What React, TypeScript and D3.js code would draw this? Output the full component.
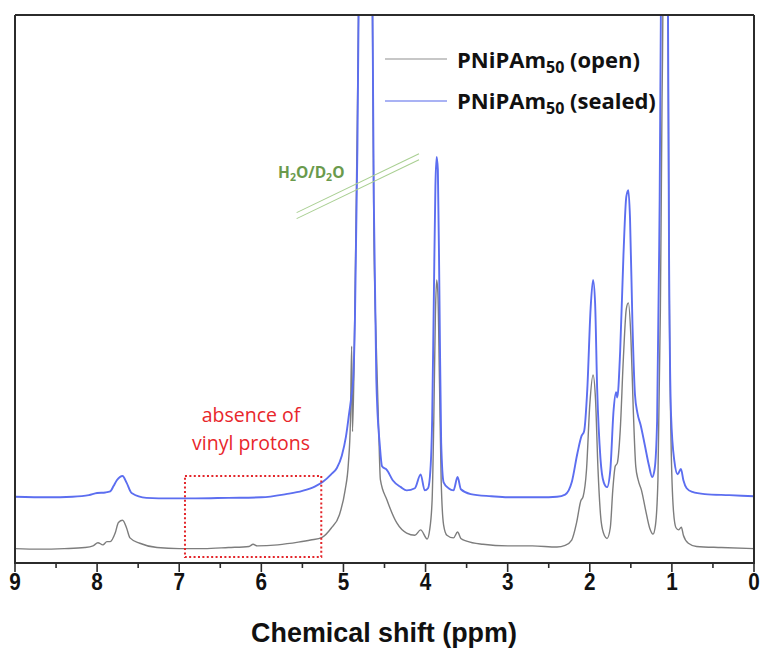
import React, { useEffect } from "react";
import * as d3 from "d3";

// ---- data (ppm, relative intensity) ----
const openSpectrum: [number, number][] = [
  [9.0, 0.1], [8.7, 0.0], [8.4, 0.1], [8.15, 0.3], [8.05, 0.6], [7.99, 1.2], [7.93, 0.8], [7.88, 1.4],
  [7.84, 1.4], [7.78, 3.0], [7.74, 5.0], [7.69, 5.4], [7.64, 3.9], [7.6, 2.1], [7.48, 1.1], [7.27, 0.3],
  [7.0, 0.1], [6.7, 0.1], [6.4, 0.3], [6.15, 0.5], [6.1, 0.9], [6.05, 0.6], [5.8, 0.8], [5.55, 1.3],
  [5.4, 1.7], [5.26, 2.2], [5.15, 3.9], [5.05, 6.4], [4.98, 11], [4.94, 16], [4.915, 24], [4.9, 38],
  [4.89, 22], [4.87, 35], [4.84, 70], [4.81, 110], [4.73, 400], [4.65, 110], [4.63, 60], [4.6, 38],
  [4.57, 22], [4.55, 13], [4.47, 9.2], [4.35, 4.9], [4.23, 3.0], [4.13, 2.6], [4.06, 3.6], [3.98, 1.9],
  [3.95, 3.6], [3.92, 9.2], [3.9, 24], [3.88, 44], [3.865, 50.4], [3.85, 48], [3.83, 31], [3.81, 13],
  [3.78, 4.5], [3.74, 2.6], [3.66, 2.1], [3.61, 3.2], [3.57, 2.0], [3.5, 1.5], [3.3, 0.9], [3.0, 0.6],
  [2.7, 0.6], [2.4, 0.4], [2.3, 0.7], [2.22, 1.7], [2.16, 5.0], [2.11, 9.0], [2.08, 9.9], [2.04, 14.8],
  [2.0, 27], [1.96, 32.6], [1.93, 28], [1.9, 15], [1.86, 5], [1.82, 2.5], [1.79, 2.0], [1.75, 4.0],
  [1.72, 11], [1.69, 15.5], [1.665, 16.1], [1.63, 22], [1.59, 36], [1.555, 45], [1.53, 46.1], [1.5, 40],
  [1.47, 26], [1.44, 15.5], [1.41, 12.9], [1.37, 11], [1.32, 7.3], [1.27, 3.9], [1.23, 2.8], [1.2, 4.5],
  [1.17, 13], [1.14, 45], [1.12, 84], [1.105, 110], [1.08, 400], [1.05, 110], [1.035, 56], [1.01, 20],
  [0.98, 7], [0.95, 4.0], [0.92, 3.6], [0.885, 4.1], [0.86, 2.6], [0.8, 1.1], [0.7, 0.5], [0.4, 0.3],
  [0.0, 0.1],
];

const sealedSpectrum: [number, number][] = [
  [9.0, 9.8], [8.6, 9.7], [8.3, 9.8], [8.1, 10.1], [8.0, 10.5], [7.9, 10.6], [7.84, 10.8], [7.8, 11.8],
  [7.76, 12.9], [7.69, 13.7], [7.64, 12.4], [7.58, 10.5], [7.4, 9.6], [7.1, 9.5], [6.8, 9.5], [6.4, 9.6],
  [6.0, 9.7], [5.7, 10.3], [5.5, 10.9], [5.35, 11.7], [5.25, 12.6], [5.15, 14], [5.08, 15.2], [5.02, 17.5],
  [4.97, 21], [4.93, 25.5], [4.9, 29], [4.88, 32], [4.86, 43], [4.83, 75], [4.81, 110], [4.73, 400],
  [4.65, 110], [4.63, 65], [4.6, 32], [4.585, 25.5], [4.56, 20], [4.53, 15.5], [4.47, 14.8], [4.4, 12.9],
  [4.3, 11.6], [4.23, 11], [4.13, 11.4], [4.06, 14], [4.01, 11], [3.97, 11.4], [3.94, 15], [3.92, 24],
  [3.9, 46], [3.88, 68], [3.865, 73.4], [3.85, 71], [3.83, 46], [3.81, 20], [3.78, 12.5], [3.72, 11.4],
  [3.66, 11], [3.61, 13.5], [3.57, 11.2], [3.45, 10.3], [3.2, 9.9], [3.0, 9.7], [2.6, 9.7], [2.4, 9.8],
  [2.3, 10.2], [2.22, 12.5], [2.15, 18], [2.1, 21.2], [2.07, 22], [2.03, 30], [1.99, 45], [1.96, 50.4],
  [1.935, 46], [1.91, 30], [1.87, 17], [1.83, 12.5], [1.79, 11.6], [1.75, 14.8], [1.71, 26], [1.68, 29.4],
  [1.665, 28.4], [1.63, 37], [1.59, 55], [1.555, 66], [1.53, 67.2], [1.51, 62], [1.48, 42], [1.45, 29],
  [1.42, 25.5], [1.38, 23.2], [1.33, 19.5], [1.28, 15.7], [1.24, 13.5], [1.21, 15], [1.18, 24], [1.155, 56],
  [1.13, 110], [1.09, 400], [1.05, 110], [1.035, 56], [1.01, 25], [0.97, 16.5], [0.93, 14], [0.89, 15],
  [0.86, 12.9], [0.82, 11.4], [0.75, 10.7], [0.6, 10.3], [0.3, 10.1], [0.0, 9.9],
];

const majorTicks = [9, 8, 7, 6, 5, 4, 3, 2, 1, 0];
const minorTicks = [8.5, 7.5, 6.5, 5.5, 4.5, 3.5, 2.5, 1.5, 0.5];
const seriesNames = ["open", "sealed"];
const xLabel = "Chemical shift (ppm)";
const vinylBox = { ppm: [6.93, 5.27], value: [13.7, -1.5] };
const waterLabel = { ppm: [5.57, 4.08], value: [63, 74] };

const W = 763;
const H = 650;
const L = 15, R = 754, T = 15, B = 563;

export default function App() {
  useEffect(() => {
    document.body.style.margin = "0";
  }, []);

  const x = d3.scaleLinear().domain([9, 0]).range([L, R]);
  const y = d3.scaleLinear().domain([-2.6, 100]).range([B, T]);
  const line = d3
    .line<[number, number]>()
    .x((d) => x(d[0]))
    .y((d) => y(d[1]))
    .curve(d3.curveMonotoneX);

  const grayCol = "#7d7d7d";
  const blueCol = "#5c6ef0";
  const font = "'Open Sans', 'DejaVu Sans', sans-serif";
  const axisFont = "'Liberation Sans', Arial, sans-serif";

  return (
    <svg width={W} height={H} style={{ display: "block", background: "#fff" }}>
      <defs>
        <clipPath id="plotClip">
          <rect x={L} y={T} width={R - L} height={B - T} />
        </clipPath>
      </defs>

      {/* spectra */}
      <g clipPath="url(#plotClip)" fill="none" strokeLinejoin="round">
        <path d={line(openSpectrum) || ""} stroke={grayCol} strokeWidth={1.4} />
        <path d={line(sealedSpectrum) || ""} stroke={blueCol} strokeWidth={1.9} />
      </g>

      {/* water annotation lines */}
      <g stroke="#a9cf92" strokeWidth={1.1}>
        <line x1={x(waterLabel.ppm[0])} y1={y(waterLabel.value[0])} x2={x(waterLabel.ppm[1])} y2={y(waterLabel.value[1])} />
        <line x1={x(waterLabel.ppm[0])} y1={y(waterLabel.value[0]) + 6} x2={x(waterLabel.ppm[1])} y2={y(waterLabel.value[1]) + 6} />
      </g>
      <text x={278} y={178} fill="#6a9a4c" fontFamily={font} fontWeight={700} fontSize={15.5}>
        H<tspan fontSize={10.5} dy={3}>2</tspan>
        <tspan dy={-3}>O/D</tspan>
        <tspan fontSize={10.5} dy={3}>2</tspan>
        <tspan dy={-3}>O</tspan>
      </text>

      {/* vinyl box */}
      <rect
        x={x(vinylBox.ppm[0])}
        y={y(vinylBox.value[0])}
        width={x(vinylBox.ppm[1]) - x(vinylBox.ppm[0])}
        height={y(vinylBox.value[1]) - y(vinylBox.value[0])}
        fill="none"
        stroke="#e3262b"
        strokeWidth={2}
        strokeDasharray="2 2.4"
      />
      <text x={251} y={422} textAnchor="middle" fill="#e8262b" fontFamily={font} fontSize={19.5}>
        absence of
      </text>
      <text x={251} y={450} textAnchor="middle" fill="#e8262b" fontFamily={font} fontSize={19.5}>
        vinyl protons
      </text>

      {/* frame */}
      <g stroke="#2b2b2b" strokeWidth={2} fill="none">
        <line x1={L} y1={T} x2={R} y2={T} />
        <line x1={L} y1={T} x2={L} y2={B} />
        <line x1={R} y1={T} x2={R} y2={B} />
        <line x1={L - 1} y1={B} x2={R + 1} y2={B} />
      </g>

      {/* ticks */}
      <g stroke="#2b2b2b" strokeWidth={1.6}>
        {majorTicks.map((t) => (
          <line key={"M" + t} x1={x(t)} x2={x(t)} y1={B} y2={B + 9} />
        ))}
        {minorTicks.map((t) => (
          <line key={"m" + t} x1={x(t)} x2={x(t)} y1={B} y2={B + 5} />
        ))}
      </g>
      <g fontFamily={axisFont} fontWeight={700} fill="#111" textAnchor="middle">
        {majorTicks.map((t) => (
          <text key={"t" + t} x={0} y={0} fontSize={23} transform={`translate(${x(t)},590) scale(0.9,1)`}>
            {t}
          </text>
        ))}
      </g>
      <text
        x={0}
        y={0}
        transform="translate(384,642) scale(0.96,1)"
        textAnchor="middle"
        fontFamily={axisFont}
        fontWeight={700}
        fontSize={28}
        fill="#111"
      >
        {xLabel}
      </text>

      {/* legend */}
      <g fontFamily={font} fontWeight={700} fontSize={22} fill="#111">
        <line x1={385} x2={447} y1={59} y2={59} stroke="#b5b5b5" strokeWidth={1.5} />
        <text x={457} y={68}>
          PNiPAm<tspan fontSize={16} dy={5}>50</tspan>
          <tspan dy={-5}> ({seriesNames[0]})</tspan>
        </text>
        <line x1={385} x2={447} y1={101} y2={101} stroke="#8c98f0" strokeWidth={1.5} />
        <text x={457} y={109}>
          PNiPAm<tspan fontSize={16} dy={5}>50</tspan>
          <tspan dy={-5}> ({seriesNames[1]})</tspan>
        </text>
      </g>
    </svg>
  );
}
